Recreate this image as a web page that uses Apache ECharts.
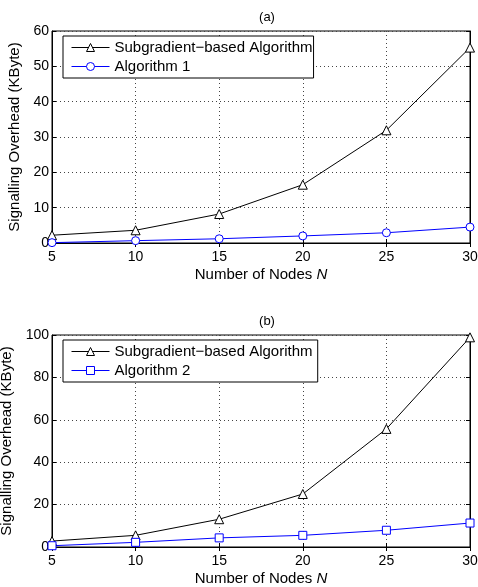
<!DOCTYPE html>
<html><head><meta charset="utf-8">
<script src="https://cdn.jsdelivr.net/npm/echarts@6/dist/echarts.min.js"></script>
<style>html,body{margin:0;padding:0;background:#fff}#c{width:478px;height:587px}</style>
</head><body><div id="c"></div>
<script>
const nodes = [5, 10, 15, 20, 25, 30];
const subgradA = [2.2, 3.6, 8.2, 16.5, 31.9, 55.3];
const alg1 = [0.1, 0.66, 1.2, 2.0, 2.9, 4.5];
const subgradB = [2.8, 5.5, 13.1, 25.0, 55.7, 98.9];
const alg2 = [0.6, 2.2, 4.3, 5.5, 7.9, 11.3];
const yTicksA = [0, 10, 20, 30, 40, 50, 60];
const yTicksB = [0, 20, 40, 60, 80, 100];

const FONT = 'Liberation Sans, Arial, sans-serif';
const pair = (xs, ys) => xs.map((x, i) => [x, ys[i]]);

const grids = [
  {left: 52, right: 8, top: 31, height: 212, show: true, borderColor: '#000', borderWidth: 1, containLabel: false, outerBoundsMode: 'none'},
  {left: 52, right: 8, top: 335, height: 212, show: true, borderColor: '#000', borderWidth: 1, containLabel: false, outerBoundsMode: 'none'}
];

function xAx(gi) {
  return {
    type: 'value', gridIndex: gi, min: 5, max: 30, interval: 5,
    name: '{a|Number of Nodes }{i|N}', nameLocation: 'middle', nameGap: 24,
    nameTextStyle: {rich: {a: {fontFamily: FONT, fontSize: 15, color: '#000'}, i: {fontFamily: FONT, fontSize: 15, color: '#000', fontStyle: 'italic'}}},
    axisLine: {show: true, lineStyle: {color: '#000', width: 1}},
    axisTick: {show: true, inside: true, length: 4, lineStyle: {color: '#000'}},
    axisLabel: {fontFamily: FONT, fontSize: 14, color: '#000', margin: 7},
    splitLine: {show: true, lineStyle: {color: '#444', type: [1, 3], width: 1}}
  };
}
function xTop(gi) {
  return {type: 'value', gridIndex: gi, min: 5, max: 30, interval: 5, position: 'top',
    axisLine: {show: true, lineStyle: {color: '#000'}}, axisTick: {show: true, inside: true, length: 4, lineStyle: {color: '#000'}},
    axisLabel: {show: false}, splitLine: {show: false}};
}
function yAx(gi, ticks) {
  const iv = ticks[1] - ticks[0];
  return {
    type: 'value', gridIndex: gi, min: ticks[0], max: ticks[ticks.length - 1], interval: iv,
    name: 'Signalling Overhead (KByte)', nameLocation: 'middle', nameGap: 22,
    nameTextStyle: {fontFamily: FONT, fontSize: 15, color: '#000'},
    axisLine: {show: true, lineStyle: {color: '#000', width: 1}},
    axisTick: {show: true, inside: true, length: 4, lineStyle: {color: '#000'}},
    axisLabel: {fontFamily: FONT, fontSize: 14, color: '#000', margin: 3},
    splitLine: {show: true, lineStyle: {color: '#444', type: [1, 3], width: 1}}
  };
}
function yRight(gi, ticks) {
  const iv = ticks[1] - ticks[0];
  return {type: 'value', gridIndex: gi, min: ticks[0], max: ticks[ticks.length - 1], interval: iv, position: 'right',
    axisLine: {show: true, lineStyle: {color: '#000'}}, axisTick: {show: true, inside: true, length: 4, lineStyle: {color: '#000'}},
    axisLabel: {show: false}, splitLine: {show: false}};
}

function ser(name, data, xi, yi, color, symbol, size) {
  return {
    type: 'line', name: name, data: data, xAxisIndex: xi, yAxisIndex: yi,
    symbol: symbol, symbolSize: size, showAllSymbol: true,
    lineStyle: {color: color, width: 1}, itemStyle: {color: '#fff', borderColor: color, borderWidth: 1},
    color: color, animation: false, z: 5
  };
}

function legend(top, names) {
  return {
    top: top, left: 63, orient: 'vertical', data: names,
    backgroundColor: '#fff', borderColor: '#000', borderWidth: 1,
    padding: [4, 1, 4, 8], itemGap: 4, itemWidth: 38, itemHeight: 10,
    lineStyle: {width: 1}, itemStyle: {borderWidth: 1},
    textStyle: {fontFamily: FONT, fontSize: 15, color: '#000'},
    selectedMode: false
  };
}

const chart = echarts.init(document.getElementById('c'), null, {renderer: 'canvas'});
chart.setOption({
  backgroundColor: '#fff',
  animation: false,
  title: [
    {text: '(a)', left: 262, top: 6, textAlign: 'center', textStyle: {fontFamily: FONT, fontSize: 13, fontWeight: 'normal', color: '#000'}},
    {text: '(b)', left: 262, top: 310, textAlign: 'center', textStyle: {fontFamily: FONT, fontSize: 13, fontWeight: 'normal', color: '#000'}}
  ],
  grid: grids,
  xAxis: [xAx(0), xTop(0), xAx(1), xTop(1)],
  yAxis: [yAx(0, yTicksA), yRight(0, yTicksA), yAx(1, yTicksB), yRight(1, yTicksB)],
  legend: [
    legend(36, ['Subgradient\u2212based Algorithm', 'Algorithm 1']),
    legend(340, ['Subgradient\u2212based Algorithm ', 'Algorithm 2'])
  ],
  series: [
    ser('Subgradient\u2212based Algorithm', pair(nodes, subgradA), 0, 0, '#000', 'triangle', 9),
    ser('Algorithm 1', pair(nodes, alg1), 0, 0, '#0000ff', 'circle', 8),
    ser('Subgradient\u2212based Algorithm ', pair(nodes, subgradB), 2, 2, '#000', 'triangle', 9),
    ser('Algorithm 2', pair(nodes, alg2), 2, 2, '#0000ff', 'rect', 8)
  ]
});
</script></body></html>
